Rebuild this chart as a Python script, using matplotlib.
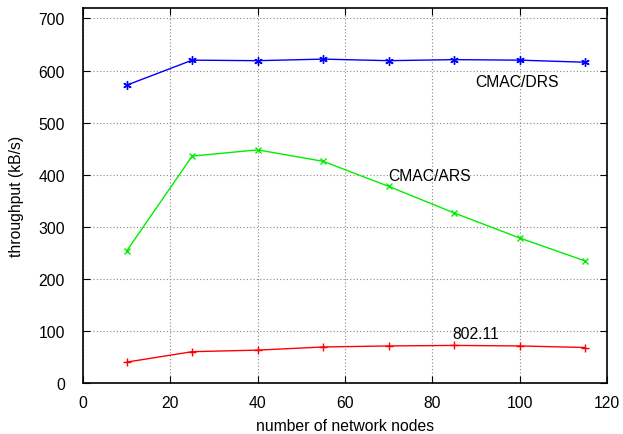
import matplotlib
matplotlib.use('Agg')
import matplotlib.pyplot as plt

nodes = [10, 25, 40, 55, 70, 85, 100, 115]
drs = [572, 620, 619, 622, 619, 621, 620, 616]
ars = [254, 436, 448, 426, 378, 327, 279, 235]
wifi = [41, 61, 64, 70, 72, 73, 72, 69]

plt.rcParams['font.family'] = ['Liberation Sans', 'DejaVu Sans']
fs = 11.3

fig = plt.figure(figsize=(6.23, 4.35), dpi=100)
ax = fig.add_axes([0.1332, 0.1161, 0.8411, 0.8632])

ax.plot(nodes, drs, color='blue', marker=(6, 2, 0), markersize=6, linewidth=1)
ax.plot(nodes, ars, color='#00ee00', marker='x', markersize=5, linewidth=1)
ax.plot(nodes, wifi, color='red', marker='+', markersize=6, linewidth=1)

ax.text(89.8, 580, 'CMAC/DRS', va='center', ha='left', fontsize=fs)
ax.text(69.8, 398, 'CMAC/ARS', va='center', ha='left', fontsize=fs)
ax.text(84.7, 95, '802.11', va='center', ha='left', fontsize=fs)

ax.set_xlim(0, 120)
ax.set_ylim(0, 720)
ax.set_xticks(range(0, 121, 20))
ax.set_yticks(range(0, 701, 100))
ax.grid(True, linestyle=(0, (1, 2)), color='#888888', linewidth=0.8)
ax.tick_params(direction='in', top=True, right=True, length=5, labelsize=fs)
ax.tick_params(axis='y', pad=13)
ax.tick_params(axis='x', pad=8)
for s in ax.spines.values():
    s.set_linewidth(1.2)
ax.set_xlabel('number of network nodes', fontsize=fs, labelpad=6)
ax.set_ylabel('throughput (kB/s)', fontsize=fs, labelpad=10)

fig.savefig('out.png', dpi=100)
